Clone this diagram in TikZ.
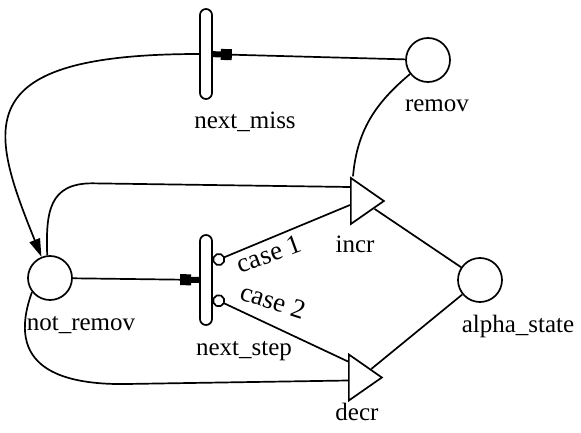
\documentclass[tikz,border=0pt]{standalone}
\usepackage{fontspec}
\setmainfont{Liberation Serif}
\usetikzlibrary{arrows.meta,positioning,shapes.geometric}

\begin{document}
\begin{tikzpicture}[x=1pt,y=1pt,line width=1.7pt,
  pnplace/.style={circle,draw,minimum size=44pt,inner sep=0pt},
  pnbar/.style={rectangle,rounded corners=6pt,draw,minimum width=12pt,minimum height=90pt,inner sep=0pt},
  pngate/.style={isosceles triangle,isosceles triangle stretches,draw,minimum width=46pt,minimum height=33pt,inner sep=0pt,anchor=lower side},
  pnlabel/.style={font=\fontsize{25}{30}\selectfont,inner sep=0pt,anchor=base},
  caselabel/.style={font=\fontsize{27}{30}\selectfont,inner sep=0pt},
  sqtip/.style={-{Square[length=11pt,width=11pt,sep=0pt]Rectangle[length=8pt,width=6pt]}},
  cctip/.style={{Circle[open,length=13pt,width=13pt]}-}]
\useasboundingbox (0,0) rectangle (581,432);

% places
\node[pnplace] (remov) at (428,372) {};
\node[pnplace] (not_remov) at (50,154) {};
\node[pnplace] (alpha_state) at (480,152) {};
% transitions
\node[pnbar] (next_miss) at (206,378) {};
\node[pnbar] (next_step) at (206,152) {};
% gates
\node[pngate] (incr) at (350,231) {};
\node[pngate] (decr) at (348,54.5) {};

% names
\node[pnlabel] (remov_lbl) at (437,320) {remov};
\node[pnlabel] (not_remov_lbl) at (81,102) {not\_remov};
\node[pnlabel] (alpha_state_lbl) at (518,100) {alpha\_state};
\node[pnlabel] (next_miss_lbl) at (245,304) {next\_miss};
\node[pnlabel] (next_step_lbl) at (244,77) {next\_step};
\node[pnlabel] (incr_lbl) at (355,180) {incr};
\node[pnlabel] (decr_lbl) at (357,12) {decr};
\node[caselabel,rotate=20] (case1) at (269,178) {case 1};
\node[caselabel,rotate=-18] (case2) at (273,131) {case 2};

% arcs
\draw[sqtip] (remov) -- (next_miss);
\draw[-{Triangle[length=18pt,width=11pt]}] (next_miss.west) to[out=180,in=112,out looseness=2.3,in looseness=1.4] (not_remov.112);
\draw (not_remov.97) to[out=92,in=180,out looseness=1.3,in looseness=1.3] ++(45,72) -- ([yshift=14pt]incr.lower side);
\draw[sqtip] (not_remov) -- (next_step);
\draw[cctip] ([yshift=18pt]next_step.east) -- ([yshift=-4pt]incr.lower side);
\draw[cctip] ([yshift=-18pt]next_step.east) -- ([yshift=16pt]decr.lower side);
\draw (not_remov.218) to[out=250,in=180,out looseness=1.6,in looseness=1.2] ++(90,-92) -- ([yshift=-3pt]decr.lower side);
\draw (remov.218) to[out=220,in=85] ([xshift=3pt]incr.left corner);
\draw (incr) -- (alpha_state);
\draw (decr) -- (alpha_state);
\end{tikzpicture}
\end{document}
